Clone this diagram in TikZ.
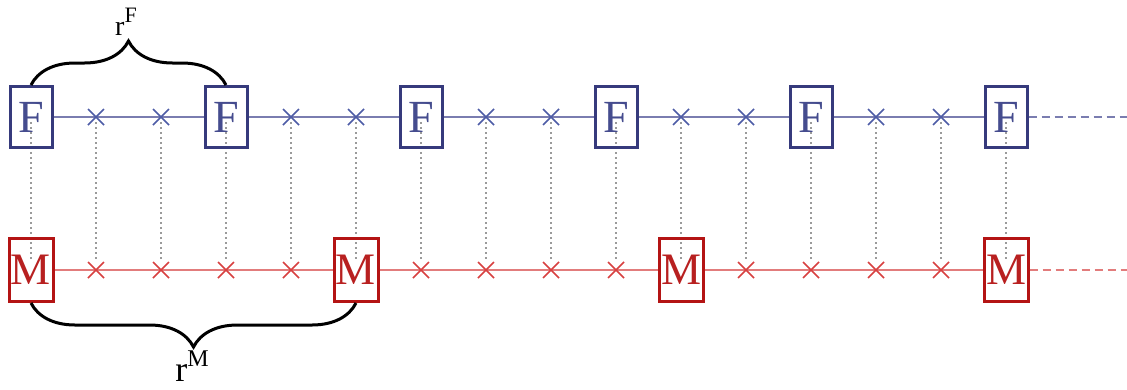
\documentclass[tikz,border=0pt]{standalone}
\usepackage{fontspec}
\setmainfont{Liberation Serif}
\usetikzlibrary{decorations.pathreplacing}
\definecolor{fnavy}{HTML}{363A7C}
\definecolor{ftext}{HTML}{454C8E}
\definecolor{fline}{HTML}{7A7DB0}
\definecolor{fcx}{HTML}{4D5CA6}
\definecolor{mred}{HTML}{B41414}
\definecolor{mtext}{HTML}{B82020}
\definecolor{mline}{HTML}{E27C7C}
\definecolor{mcx}{HTML}{D84040}
\definecolor{dotgray}{HTML}{9A9A9A}
\pgfdeclarelayer{bg}
\pgfsetlayers{bg,main}
\tikzset{
  fboxst/.style={draw=fnavy, line width=3pt, minimum width=42pt, minimum height=61pt, inner sep=0pt,
    text=ftext, font=\fontsize{46}{46}\selectfont},
  mboxst/.style={draw=mred, line width=3pt, minimum width=44pt, minimum height=63pt, inner sep=0pt,
    text=mtext, font=\fontsize{45}{45}\selectfont},
  flinest/.style={draw=fline, line width=2pt},
  mlinest/.style={draw=mline, line width=2.6pt},
  fcrossst/.style={draw=fcx, line width=1.5pt},
  mcrossst/.style={draw=mcx, line width=1.5pt},
  vdot/.style={draw=dotgray, line width=1.5pt, dash pattern=on 1.6pt off 3.4pt},
  bracest/.style={draw=black, line width=3pt, decorate, decoration={brace, amplitude=44pt}},
}
\begin{document}
\begin{tikzpicture}[x=1pt,y=-1pt]
\useasboundingbox (0,0) rectangle (1127,389);
% top row
\foreach \k in {0,...,15} {
  \pgfmathtruncatemacro\isF{mod(\k,3)==0 ? 1 : 0}
  \pgfmathsetmacro\xx{31+65*\k}
  \ifnum\isF=1
    \node[fboxst] (t\k) at (\xx,117) {F};
  \else
    \coordinate (t\k) at (\xx,117);
  \fi
  \pgfmathtruncatemacro\isM{mod(\k,5)==0 ? 1 : 0}
  \ifnum\isM=1
    \node[mboxst] (b\k) at (\xx,270) {M};
  \else
    \coordinate (b\k) at (\xx,270);
  \fi
}
\begin{pgfonlayer}{bg}
\foreach \k [evaluate=\k as \n using int(\k+1)] in {0,...,14} {
  \draw[flinest] (t\k) -- (t\n);
  \draw[mlinest] (b\k) -- (b\n);
}
\foreach \k in {0,...,15} {
  \draw[vdot, shorten <=5pt, shorten >=9pt] (t\k.center) -- (b\k.center);
}
\end{pgfonlayer}
% crosses
\foreach \k in {1,2,4,5,7,8,10,11,13,14} {
  \draw[fcrossst] (t\k) +(-8,-8) -- +(8,8) +(-8,8) -- +(8,-8);
}
\foreach \k in {1,2,3,4,6,7,8,9,11,12,13,14} {
  \draw[mcrossst] (b\k) +(-8,-8) -- +(8,8) +(-8,8) -- +(8,-8);
}
% dashed continuations
\coordinate (tend) at (1127,117);
\coordinate (bend) at (1127,270);
\draw[flinest, dash pattern=on 8pt off 5pt] (t15) -- (tend);
\draw[mlinest, dash pattern=on 8pt off 5pt] (b15) -- (bend);
% braces
\draw[bracest] (t0.north) -- (t3.north);
\draw[bracest] (b5.south) -- (b0.south);
\node[anchor=base, inner sep=0pt, font=\fontsize{28}{28}\selectfont] (rF) at (126,35)
  {r\raisebox{13pt}{\fontsize{22}{22}\selectfont F}};
\node[anchor=base, inner sep=0pt, font=\fontsize{36}{36}\selectfont] (rM) at (192,381)
  {r\raisebox{15pt}{\fontsize{24}{24}\selectfont M}};
\end{tikzpicture}
\end{document}
